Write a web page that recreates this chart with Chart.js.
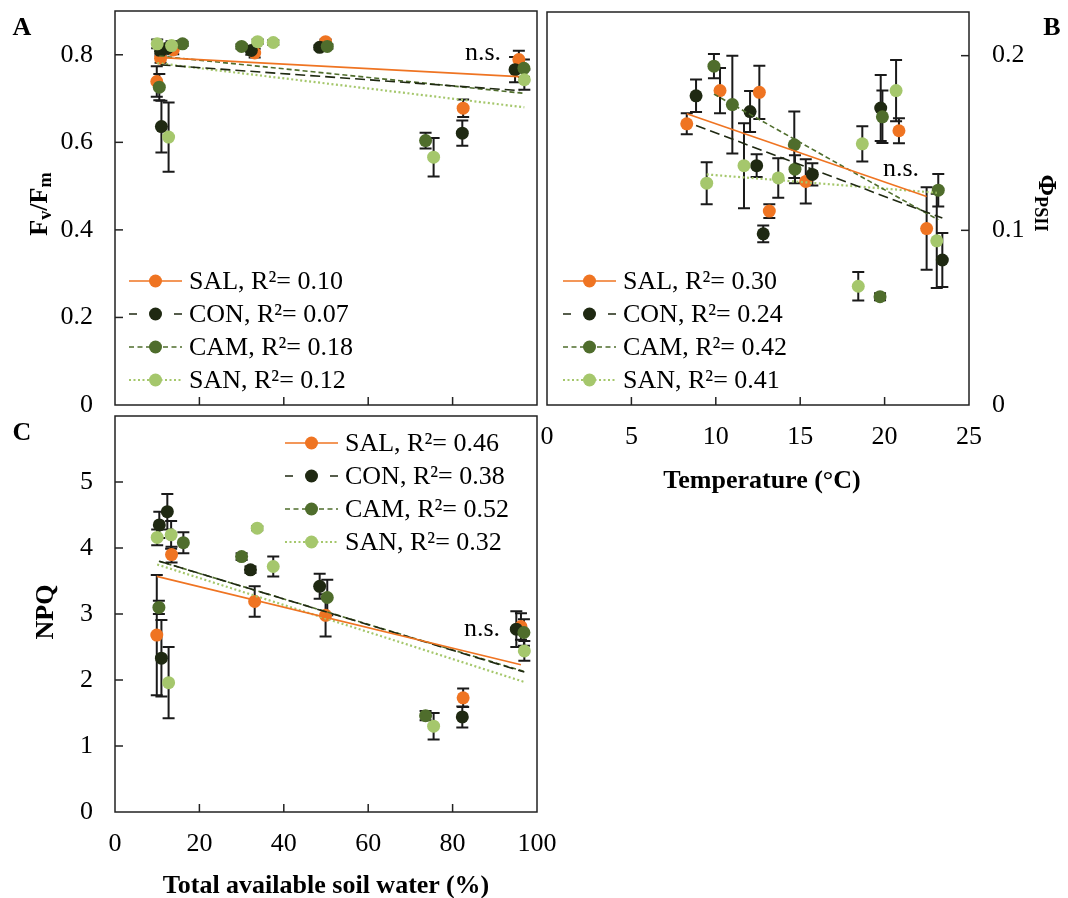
<!DOCTYPE html>
<html>
<head>
<meta charset="utf-8">
<script src="https://cdn.jsdelivr.net/npm/chart.js@4.4.1/dist/chart.umd.min.js"></script>
<style>
  html, body { margin: 0; padding: 0; background: #fff; }
  #wrap { position: relative; width: 1068px; height: 898px; overflow: hidden;
          font-family: "Liberation Serif", "Times New Roman", serif; color: #000; }
  #wrap canvas { position: absolute; }
  .lbl { position: absolute; font-size: 26px; line-height: 1; white-space: nowrap;
         transform: translate(-50%, -50%); }
  .b { font-weight: bold; }
  .ccw { transform: translate(-50%, -50%) rotate(-90deg); }
  .cw { transform: translate(-50%, -50%) rotate(90deg); }
  sub { font-size: 70%; vertical-align: -0.25em; }
</style>
</head>
<body>
<div id="wrap">
  <canvas id="chartA" width="545" height="412" style="left:0;top:0;"></canvas>
  <canvas id="chartB" width="528" height="500" style="left:540px;top:0;"></canvas>
  <canvas id="chartC" width="562" height="488" style="left:0;top:410px;"></canvas>

  <div class="lbl b" style="left:22px;top:27px;">A</div>
  <div class="lbl b" style="left:1052px;top:27px;">B</div>
  <div class="lbl b" style="left:22px;top:432px;">C</div>

  <div class="lbl b ccw" style="left:40px;top:204px;">F<sub>v</sub>/F<sub>m</sub></div>
  <div class="lbl b ccw" style="left:45px;top:612px;">NPQ</div>
  <div class="lbl b cw" style="left:1046px;top:203px;">&Phi;<sub>PSII</sub></div>
  <div class="lbl b" style="left:762px;top:480px;">Temperature (°C)</div>
  <div class="lbl b" style="left:326px;top:885px;">Total available soil water (%)</div>

  <div class="lbl" style="left:483px;top:52px;">n.s.</div>
  <div class="lbl" style="left:901px;top:168px;">n.s.</div>
  <div class="lbl" style="left:482px;top:628px;">n.s.</div>
</div>

<script>
// ---- series look ----
const seriesNames = ["SAL", "CON", "CAM", "SAN"];
const seriesColors = ["#ef7422", "#1f2912", "#4f6d2c", "#a5c76c"];
const trendDash = [[], [10, 5], [5, 3], [2, 2.5]];
const legendDash = [[], [8, 37, 8], [5, 3.5], [2, 2.5]];

// ---- A: Fv/Fm vs total available soil water (%) ----
const salSoilA = [9.9, 10.8, 13.8, 33.1, 49.9, 82.5, 95.7];
const salFvFm = [0.739, 0.792, 0.811, 0.804, 0.830, 0.678, 0.789];
const salFvFmErr = [0.035, 0.01, 0.01, 0.01, 0.005, 0.02, 0.02];
const conSoilA = [10.8, 11.0, 12.4, 32.3, 48.5, 82.3, 94.8];
const conFvFm = [0.808, 0.636, 0.815, 0.810, 0.817, 0.621, 0.766];
const conFvFmErr = [0.01, 0.059, 0.01, 0.01, 0.005, 0.029, 0.029];
const camSoilA = [10.5, 16.0, 30.0, 50.3, 73.6, 96.9];
const camFvFm = [0.726, 0.825, 0.819, 0.819, 0.604, 0.769];
const camFvFmErr = [0.03, 0.005, 0.005, 0.005, 0.018, 0.02];
const sanSoilA = [10.0, 12.7, 13.4, 33.8, 37.5, 75.5, 97.0];
const sanFvFm = [0.825, 0.612, 0.821, 0.830, 0.828, 0.566, 0.743];
const sanFvFmErr = [0.01, 0.079, 0.01, 0.005, 0.005, 0.044, 0.023];
const fvfmTrendX0 = [9.9, 10.8, 10.5, 10.0];
const fvfmTrendX1 = [95.7, 96.0, 96.9, 97.0];
const fvfmTrendY0 = [0.794, 0.777, 0.797, 0.781];
const fvfmTrendY1 = [0.750, 0.718, 0.712, 0.680];
const r2FvFm = ["0.10", "0.07", "0.18", "0.12"];
const fvfmTicks = [0, 0.2, 0.4, 0.6, 0.8];
const soilTicks = [0, 20, 40, 60, 80, 100];

// ---- B: PhiPSII vs temperature (°C) ----
const salTemp = [8.28, 10.25, 12.58, 13.17, 15.33, 20.85, 22.49];
const salPhi = [0.161, 0.180, 0.179, 0.111, 0.128, 0.157, 0.101];
const salPhiErr = [0.006, 0.0129, 0.0152, 0.004, 0.0127, 0.0071, 0.0236];
const conTemp = [8.83, 12.03, 12.42, 12.81, 15.72, 19.77, 23.42];
const conPhi = [0.177, 0.168, 0.137, 0.098, 0.132, 0.170, 0.083];
const conPhiErr = [0.0093, 0.0117, 0.0065, 0.0048, 0.0064, 0.0189, 0.0155];
const camTemp = [9.89, 10.98, 14.65, 14.69, 19.73, 19.87, 23.18];
const camPhi = [0.194, 0.172, 0.149, 0.135, 0.062, 0.165, 0.123];
const camPhiErr = [0.007, 0.028, 0.019, 0.008, 0.002, 0.015, 0.0093];
const sanTemp = [9.46, 11.67, 13.70, 18.44, 18.68, 20.68, 23.09];
const sanPhi = [0.127, 0.137, 0.130, 0.068, 0.1495, 0.180, 0.094];
const sanPhiErr = [0.012, 0.0243, 0.0113, 0.0082, 0.0101, 0.0175, 0.027];
const phiTrendX0 = [8.28, 8.83, 9.89, 9.46];
const phiTrendX1 = [22.49, 23.42, 23.18, 23.09];
const phiTrendY0 = [0.1667, 0.160, 0.178, 0.132];
const phiTrendY1 = [0.1194, 0.107, 0.106, 0.1215];
const r2Phi = ["0.30", "0.24", "0.42", "0.41"];
const phiTicks = [0, 0.1, 0.2];
const tempTicks = [0, 5, 10, 15, 20, 25];

// ---- C: NPQ vs total available soil water (%) ----
const salSoilC = [9.9, 13.4, 33.1, 49.9, 82.5, 96.2];
const salNpq = [2.68, 3.90, 3.19, 2.98, 1.73, 2.81];
const salNpqErr = [0.91, 0.12, 0.23, 0.32, 0.14, 0.2];
const conSoilC = [10.5, 11.0, 12.4, 32.1, 48.5, 82.3, 95.1];
const conNpq = [4.35, 2.33, 4.55, 3.67, 3.42, 1.44, 2.77];
const conNpqErr = [0.2, 0.58, 0.27, 0.05, 0.19, 0.16, 0.27];
const camSoilC = [10.4, 16.2, 30.0, 50.3, 73.6, 96.9];
const camNpq = [3.10, 4.08, 3.87, 3.25, 1.46, 2.72];
const camNpqErr = [0.1, 0.16, 0.05, 0.27, 0.07, 0.2];
const sanSoilC = [10.0, 12.7, 13.3, 33.7, 37.5, 75.5, 97.0];
const sanNpq = [4.16, 1.96, 4.20, 4.30, 3.72, 1.30, 2.44];
const sanNpqErr = [0.12, 0.54, 0.21, 0.03, 0.15, 0.2, 0.15];
const npqTrendX0 = [9.9, 10.5, 10.4, 10.0];
const npqTrendX1 = [96.2, 97.0, 96.9, 97.0];
const npqTrendY0 = [3.57, 3.80, 3.80, 3.75];
const npqTrendY1 = [2.23, 2.12, 2.13, 1.97];
const r2Npq = ["0.46", "0.38", "0.52", "0.32"];
const npqTicks = [0, 1, 2, 3, 4, 5];

Chart.defaults.font.family = '"Liberation Serif", "Times New Roman", serif';
Chart.defaults.font.size = 26;
Chart.defaults.color = "#000";

// frame around plot area + short inward tick marks
const frameTicks = {
  id: "frameTicks",
  beforeDatasetsDraw(chart) {
    const { ctx, chartArea: a, scales } = chart;
    ctx.save();
    ctx.strokeStyle = "#222";
    ctx.lineWidth = 1.5;
    ctx.strokeRect(a.left, a.top, a.right - a.left, a.bottom - a.top);
    const len = 8;
    scales.x.ticks.forEach((t) => {
      const px = scales.x.getPixelForValue(t.value);
      if (px <= a.left + 1 || px >= a.right - 1) return;
      ctx.beginPath();
      ctx.moveTo(px, a.bottom);
      ctx.lineTo(px, a.bottom - len);
      ctx.stroke();
    });
    const onRight = scales.y.position === "right";
    scales.y.ticks.forEach((t) => {
      const py = scales.y.getPixelForValue(t.value);
      if (py >= a.bottom - 1 || py <= a.top + 1) return;
      ctx.beginPath();
      if (onRight) { ctx.moveTo(a.right, py); ctx.lineTo(a.right - len, py); }
      else { ctx.moveTo(a.left, py); ctx.lineTo(a.left + len, py); }
      ctx.stroke();
    });
    ctx.restore();
  }
};

// vertical error bars with caps, under the markers
const errorBars = {
  id: "errorBars",
  beforeDatasetsDraw(chart) {
    const { ctx, scales: { x, y } } = chart;
    ctx.save();
    ctx.strokeStyle = "#1a1a1a";
    ctx.lineWidth = 2;
    chart.data.datasets.forEach((ds) => {
      if (!ds.errors) return;
      ds.data.forEach((p, i) => {
        const e = ds.errors[i];
        if (!e) return;
        const px = x.getPixelForValue(p.x);
        const y1 = y.getPixelForValue(p.y + e);
        const y2 = y.getPixelForValue(p.y - e);
        ctx.beginPath();
        ctx.moveTo(px, y1); ctx.lineTo(px, y2);
        ctx.moveTo(px - 6, y1); ctx.lineTo(px + 6, y1);
        ctx.moveTo(px - 6, y2); ctx.lineTo(px + 6, y2);
        ctx.stroke();
      });
    });
    ctx.restore();
  }
};

// legend: line sample with marker, then label text
const panelLegend = {
  id: "panelLegend",
  afterDraw(chart, args, opts) {
    const { ctx } = chart;
    ctx.save();
    ctx.font = '26px "Liberation Serif", "Times New Roman", serif';
    ctx.textBaseline = "middle";
    opts.r2.forEach((r, i) => {
      const y = opts.y + i * opts.rowH;
      const x = opts.x;
      ctx.strokeStyle = seriesColors[i];
      ctx.lineWidth = i === 3 ? 2 : 1.6;
      ctx.setLineDash(legendDash[i]);
      ctx.beginPath();
      ctx.moveTo(x, y);
      ctx.lineTo(x + 53, y);
      ctx.stroke();
      ctx.setLineDash([]);
      ctx.fillStyle = seriesColors[i];
      ctx.beginPath();
      ctx.arc(x + 26.5, y, 6.5, 0, Math.PI * 2);
      ctx.fill();
      ctx.fillStyle = "#000";
      ctx.fillText(`${seriesNames[i]}, R²= ${r}`, x + 60, y + 1);
    });
    ctx.restore();
  }
};

function pts(xs, ys) {
  return xs.map((x, i) => ({ x, y: ys[i] }));
}

function buildDatasets(series, x0, x1, y0, y1) {
  const sets = [];
  series.forEach((s, i) => {
    sets.push({
      label: seriesNames[i],
      data: pts(s[0], s[1]),
      errors: s[2],
      order: 10 - i,
      pointRadius: 6.5,
      pointHoverRadius: 6.5,
      pointBorderWidth: 0,
      pointBackgroundColor: seriesColors[i],
      backgroundColor: seriesColors[i],
      showLine: false
    });
  });
  series.forEach((s, i) => {
    sets.push({
      label: seriesNames[i] + " trend",
      type: "line",
      data: [{ x: x0[i], y: y0[i] }, { x: x1[i], y: y1[i] }],
      order: 0,
      showLine: true,
      borderColor: seriesColors[i],
      borderWidth: i === 3 ? 2.2 : 1.6,
      borderDash: trendDash[i],
      pointRadius: 0,
      fill: false
    });
  });
  return sets;
}

function fmtTick(v) {
  return v === 0 ? "0" : (Number.isInteger(v) ? String(v) : v.toFixed(1));
}

function noPad(s) {
  s.paddingTop = 0;
  s.paddingBottom = 0;
  s.paddingLeft = 0;
  s.paddingRight = 0;
}

function makeChart(id, datasets, o) {
  new Chart(document.getElementById(id), {
    type: "scatter",
    data: { datasets },
    plugins: [frameTicks, errorBars, panelLegend],
    options: {
      responsive: false,
      animation: false,
      layout: { padding: o.padding, autoPadding: false },
      plugins: {
        legend: { display: false },
        tooltip: { enabled: false },
        panelLegend: o.legend
      },
      scales: {
        x: {
          type: "linear",
          min: o.xMin, max: o.xMax,
          grid: { display: false, drawTicks: false },
          border: { display: false },
          afterBuildTicks: (s) => { s.ticks = o.xTicks.map((v) => ({ value: v })); },
          ticks: { display: o.xLabels, padding: 17, callback: fmtTick },
          afterFit: (s) => { s.height = o.xHeight; noPad(s); }
        },
        y: {
          type: "linear",
          position: o.yPos,
          min: o.yMin, max: o.yMax,
          grid: { display: false, drawTicks: false },
          border: { display: false },
          afterBuildTicks: (s) => { s.ticks = o.yTicks.map((v) => ({ value: v })); },
          ticks: { padding: o.yPad, callback: fmtTick },
          afterFit: (s) => { s.width = o.yWidth; noPad(s); }
        }
      }
    }
  });
}

makeChart("chartA",
  buildDatasets([
    [salSoilA, salFvFm, salFvFmErr],
    [conSoilA, conFvFm, conFvFmErr],
    [camSoilA, camFvFm, camFvFmErr],
    [sanSoilA, sanFvFm, sanFvFmErr]
  ], fvfmTrendX0, fvfmTrendX1, fvfmTrendY0, fvfmTrendY1),
  {
    padding: { left: 0, top: 11, right: 8, bottom: 7 },
    xMin: 0, xMax: 100, xTicks: soilTicks, xLabels: false, xHeight: 0,
    yPos: "left", yMin: 0, yMax: 0.9, yTicks: fvfmTicks, yPad: 22, yWidth: 115,
    legend: { x: 129, y: 281, rowH: 33, r2: r2FvFm }
  });

makeChart("chartB",
  buildDatasets([
    [salTemp, salPhi, salPhiErr],
    [conTemp, conPhi, conPhiErr],
    [camTemp, camPhi, camPhiErr],
    [sanTemp, sanPhi, sanPhiErr]
  ], phiTrendX0, phiTrendX1, phiTrendY0, phiTrendY1),
  {
    padding: { left: 7, top: 12, right: 0, bottom: 0 },
    xMin: 0, xMax: 25, xTicks: tempTicks, xLabels: true, xHeight: 95,
    yPos: "right", yMin: 0, yMax: 0.225, yTicks: phiTicks, yPad: 23, yWidth: 99,
    legend: { x: 23, y: 281, rowH: 33, r2: r2Phi }
  });

makeChart("chartC",
  buildDatasets([
    [salSoilC, salNpq, salNpqErr],
    [conSoilC, conNpq, conNpqErr],
    [camSoilC, camNpq, camNpqErr],
    [sanSoilC, sanNpq, sanNpqErr]
  ], npqTrendX0, npqTrendX1, npqTrendY0, npqTrendY1),
  {
    padding: { left: 0, top: 6, right: 25, bottom: 0 },
    xMin: 0, xMax: 100, xTicks: soilTicks, xLabels: true, xHeight: 86,
    yPos: "left", yMin: 0, yMax: 6, yTicks: npqTicks, yPad: 22, yWidth: 115,
    legend: { x: 285, y: 33, rowH: 33, r2: r2Npq }
  });
</script>
</body>
</html>
